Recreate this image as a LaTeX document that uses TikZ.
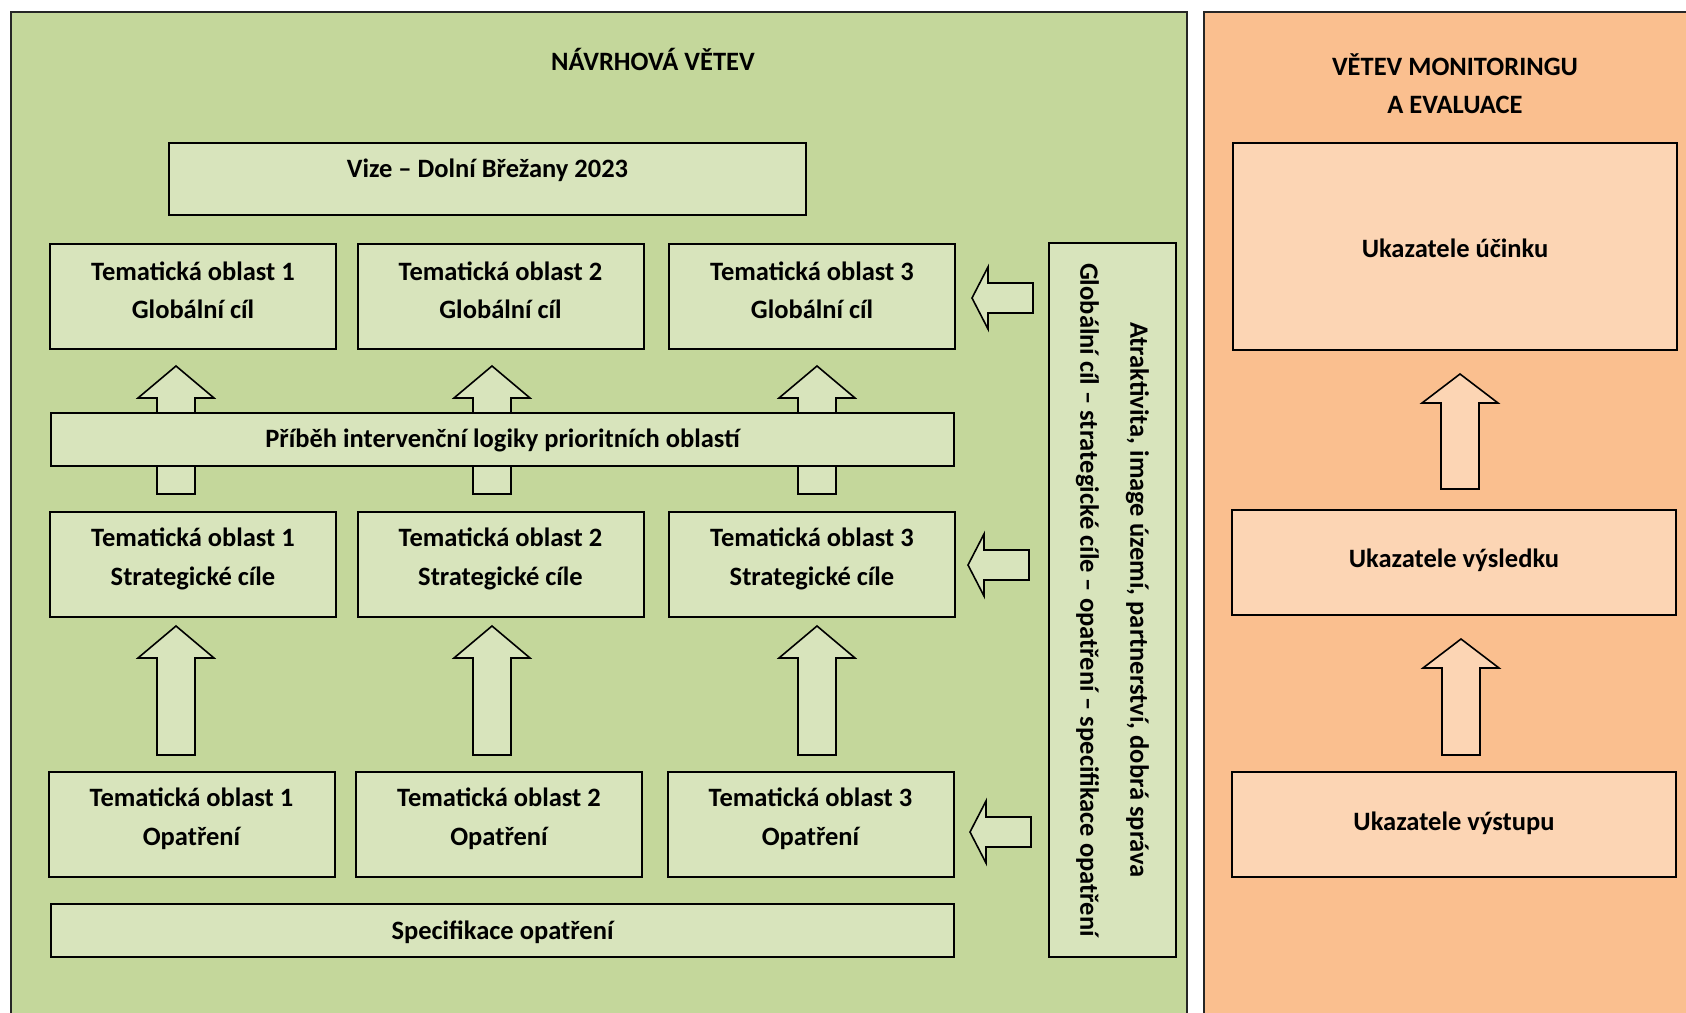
\documentclass[tikz,border=0pt]{standalone}
\usepackage{fontspec}
\setmainfont{Carlito}

\definecolor{panelgreen}{HTML}{C4D79B}
\definecolor{boxgreen}{HTML}{D8E4BC}
\definecolor{panelorange}{HTML}{FABF8F}
\definecolor{boxorange}{HTML}{FCD5B4}

\tikzset{
  panel/.style={draw=black!85, line width=2pt},
  gbox/.style={draw=black, line width=2pt, fill=boxgreen, inner sep=0pt,
    minimum width=286pt, minimum height=105pt},
  obox/.style={draw=black, line width=2pt, fill=boxorange, inner sep=0pt,
    minimum width=444pt, minimum height=105pt},
  txt/.style={inner sep=0pt, align=center,
    font=\bfseries\fontsize{26.5}{38.5}\selectfont},
  blockarr/.style={draw=black, line width=1.6pt, line join=miter},
}

% block arrow pointing up: x, tip y, head base y, bottom y, fill
\newcommand{\blockup}[5]{%
  \filldraw[blockarr, fill=#5] (#1,#2) -- (#1+38,#3) -- (#1+19,#3) -- (#1+19,#4)
    -- (#1-19,#4) -- (#1-19,#3) -- (#1-38,#3) -- cycle;}
% block arrow pointing left: tip x, centre y
\newcommand{\blockleft}[2]{%
  \filldraw[blockarr, fill=boxgreen] (#1,#2) -- (#1+16,#2-31) -- (#1+16,#2-15)
    -- (#1+61,#2-15) -- (#1+61,#2+15) -- (#1+16,#2+15) -- (#1+16,#2+31) -- cycle;}

\begin{document}
\begin{tikzpicture}[x=1pt, y=-1pt]
\useasboundingbox (0,0) rectangle (1686,1012);
\clip (0,0) rectangle (1686,1012);

% panels
\draw[panel, fill=panelgreen] (11,12) rectangle (1187,1040);
\draw[panel, fill=panelorange] (1204,12) rectangle (1720,1040);
\node[txt] (titleL) at (653,59) {NÁVRHOVÁ VĚTEV};
\node[txt, font=\bfseries\fontsize{26.5}{38}\selectfont] (titleR) at (1455,84)
  {VĚTEV MONITORINGU\\A EVALUACE};

% arrows first, boxes go over them
\foreach \cx in {176,492,817}{
  \blockup{\cx}{366}{398}{494}{boxgreen}
  \blockup{\cx}{626}{658}{755}{boxgreen}
}
\blockup{1460}{374}{403}{489}{boxorange}
\blockup{1461}{639}{668}{755}{boxorange}
\blockleft{972}{298}
\blockleft{968}{565}
\blockleft{970}{832}

% left branch
\node[gbox, minimum width=637pt, minimum height=72pt] (vize) at (487.5,179) {};
\node[txt] (vizet) at (487.5,170) {Vize – Dolní Břežany 2023};

\foreach \cx/\n in {193/1,500.5/2,812/3}{
  \node[gbox] (g\n) at (\cx,296.5) {};
  \node[txt] (g\n t) at (\cx,290.5) {Tematická oblast \n\\Globální cíl};
  \node[gbox] (s\n) at (\cx,564.5) {};
  \node[txt] (s\n t) at (\cx,559) {Tematická oblast \n\\Strategické cíle};
  \node[gbox] (o\n) at (\cx-1.5,824.5) {};
  \node[txt] (o\n t) at (\cx-1.5,819) {Tematická oblast \n\\Opatření};
}

\node[gbox, minimum width=903pt, minimum height=53pt] (story) at (502.5,439.5) {};
\node[txt] (storyt) at (502.5,440) {Příběh intervenční logiky prioritních oblastí};
\node[gbox, minimum width=903pt, minimum height=53pt] (spec) at (502.5,930.5) {};
\node[txt] (spect) at (502.5,932) {Specifikace opatření};

\node[gbox, minimum width=127pt, minimum height=714pt] (side) at (1112.5,600) {};
\node[txt, rotate=-90, font=\bfseries\fontsize{26.5}{50}\selectfont] (sidet) at (1112.5,600)
  {Atraktivita, image území, partnerství, dobrá správa\\Globální cíl – strategické cíle – opatření – specifikace opatření};

% right branch
\node[obox, minimum height=207pt] (ucinek) at (1455,246.5) {};
\node[txt] (ucinekt) at (1455,248) {Ukazatele účinku};
\node[obox] (vysledek) at (1454,562.5) {};
\node[txt] (vysledekt) at (1454,560) {Ukazatele výsledku};
\node[obox] (vystup) at (1454,824.5) {};
\node[txt] (vystupt) at (1454,823) {Ukazatele výstupu};
\end{tikzpicture}
\end{document}
